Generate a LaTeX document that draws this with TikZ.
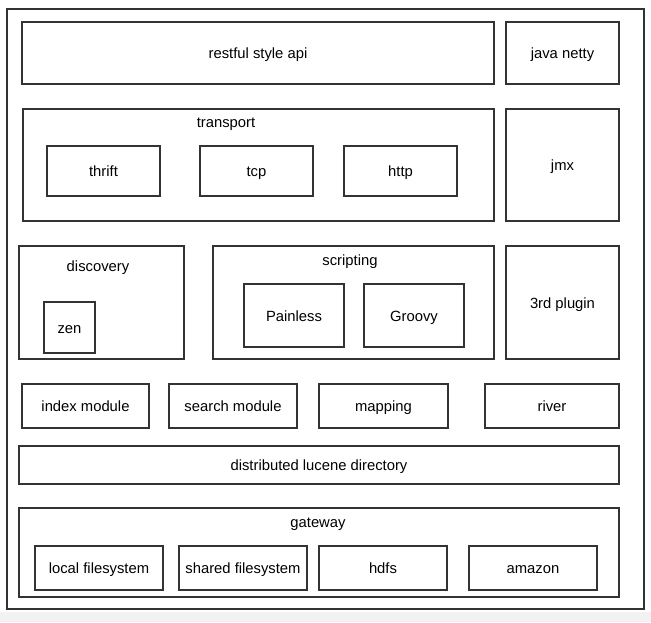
\documentclass[tikz,border=0pt]{standalone}
\usepackage{fontspec}
\setmainfont{Liberation Sans}
\usetikzlibrary{positioning}

\tikzset{
	box/.style={draw=black!80, line width=1.3pt, rectangle, inner sep=0pt, text height=11pt, text depth=0pt, font=\fontsize{14.8}{16}\selectfont},
	title/.style={inner sep=0pt, text height=11pt, text depth=0pt, font=\fontsize{14.8}{16}\selectfont}
}

\begin{document}
\begin{tikzpicture}[x=1pt, y=-1pt]
	\useasboundingbox[fill=white] (0,0) rectangle (651,622);
	\fill[black!5] (0,612) rectangle (651,622);

	\node[box, minimum width=637, minimum height=600] (outer) at (325.5,309) {};

	\node[box, minimum width=472, minimum height=62] (api) at (258,53) {restful style api};
	\node[box, minimum width=113, minimum height=62] (netty) at (562.5,53) {java netty};

	\node[box, minimum width=471, minimum height=112] (transport) at (258.5,165) {};
	\node[title] (transporttitle) at (226,122) {transport};
	\node[box, minimum width=113, minimum height=50] (thrift) at (103.5,171) {thrift};
	\node[box, minimum width=113, minimum height=50] (tcp) at (256.5,171) {tcp};
	\node[box, minimum width=113, minimum height=50] (http) at (400.5,171) {http};
	\node[box, minimum width=113, minimum height=112] (jmx) at (562.5,165) {jmx};

	\node[box, minimum width=165, minimum height=113] (discovery) at (101.5,302.5) {};
	\node[title] (discoverytitle) at (98,266) {discovery};
	\node[box, minimum width=51, minimum height=51] (zen) at (69.5,327.5) {zen};
	\node[box, minimum width=281, minimum height=113] (scripting) at (353.5,302.5) {};
	\node[title] (scriptingtitle) at (350,260) {scripting};
	\node[box, minimum width=100, minimum height=63] (painless) at (294,315.5) {Painless};
	\node[box, minimum width=100, minimum height=63] (groovy) at (414,315.5) {Groovy};
	\node[box, minimum width=113, minimum height=113] (plugin) at (562.5,302.5) {3rd plugin};

	\node[box, minimum width=127, minimum height=44] (index) at (85.5,406) {index module};
	\node[box, minimum width=128, minimum height=44] (search) at (233,406) {search module};
	\node[box, minimum width=129, minimum height=44] (mapping) at (383.5,406) {mapping};
	\node[box, minimum width=134, minimum height=44] (river) at (552,406) {river};

	\node[box, minimum width=600, minimum height=38] (lucene) at (319,465) {distributed lucene directory};

	\node[box, minimum width=600, minimum height=89] (gateway) at (319,552.5) {};
	\node[title] (gatewaytitle) at (318,522) {gateway};
	\node[box, minimum width=128, minimum height=44] (localfs) at (99,568) {local filesystem};
	\node[box, minimum width=128, minimum height=44] (sharedfs) at (243,568) {shared filesystem};
	\node[box, minimum width=128, minimum height=44] (hdfs) at (383,568) {hdfs};
	\node[box, minimum width=128, minimum height=44] (amazon) at (533,568) {amazon};
\end{tikzpicture}
\end{document}
